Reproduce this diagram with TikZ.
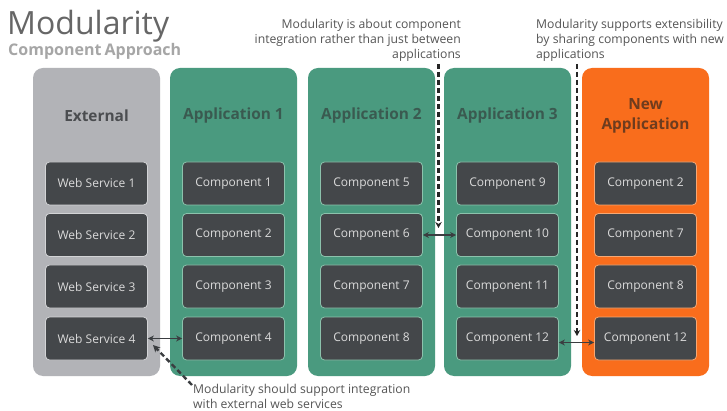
\documentclass[tikz,border=0pt]{standalone}
\usepackage{fontspec}
\setmainfont{Open Sans}
\usetikzlibrary{arrows.meta}
\definecolor{colgray}{HTML}{B2B3B7}
\definecolor{colgreen}{HTML}{4A9A7F}
\definecolor{colorange}{HTML}{F96D1C}
\definecolor{boxdark}{HTML}{44474A}
\definecolor{bordgray}{HTML}{D3D4D6}
\definecolor{bordgreen}{HTML}{8CC2AC}
\definecolor{bordorange}{HTML}{F6A874}
\definecolor{boxtext}{HTML}{DADADA}
\definecolor{ttlgray}{HTML}{4B4D50}
\definecolor{ttlgreen}{HTML}{3A5A50}
\definecolor{ttlorange}{HTML}{6E3C1E}
\definecolor{notetext}{HTML}{555555}
\definecolor{arrowcol}{HTML}{3A3D40}
\begin{document}
\begin{tikzpicture}[x=1pt,y=-1pt,
  colbox/.style={draw=none,rounded corners=10pt,minimum width=127pt,minimum height=308pt,inner sep=0pt},
  itembox/.style={draw,line width=0.8pt,fill=boxdark,rounded corners=4pt,minimum width=102pt,minimum height=43pt,inner sep=0pt,text=boxtext,font=\fontsize{12}{14}\selectfont},
  coltitle/.style={font=\bfseries\fontsize{15.4}{20}\selectfont,align=center},
  note/.style={text=notetext,font=\fontsize{12.2}{15}\selectfont,inner sep=0pt},
  dbl/.style={arrowcol,line width=1.8pt,{Stealth[length=6pt,width=6pt]}-{Stealth[length=6pt,width=6pt]}},
  dsh/.style={black!85,line width=2.2pt,dash pattern=on 5pt off 3pt,-{Stealth[length=6pt,width=6.5pt]}},
  dshann/.style={arrowcol,line width=2.4pt,dash pattern=on 5pt off 3pt,-{Stealth[length=7pt,width=7pt]}}
]
\useasboundingbox (0,0) rectangle (727,411);
\fill[white] (0,0) rectangle (727,411);

% titles
\node[anchor=base west,inner sep=0pt,text=notetext!90,font=\fontsize{32}{34}\selectfont] (title) at (7,35) {Modularity};
\node[anchor=base west,inner sep=0pt,text=black!35,font=\bfseries\fontsize{16}{18}\selectfont] (subtitle) at (8,56) {Component\hspace{-1pt} Approach};

% columns
\node[colbox,fill=colgray] (colext) at (96.5,222) {};
\node[colbox,fill=colgreen] (colapa) at (233.5,222) {};
\node[colbox,fill=colgreen] (colapb) at (371.5,222) {};
\node[colbox,fill=colgreen] (colapc) at (507.5,222) {};
\node[colbox,fill=colorange] (colnew) at (645.5,222) {};

% column titles
\node[coltitle,text=ttlgray] (text) at (96.5,116) {External};
\node[coltitle,text=ttlgreen] (tapa) at (233.5,116) {Application 1};
\node[coltitle,text=ttlgreen] (tapb) at (371.5,116) {Application 2};
\node[coltitle,text=ttlgreen] (tapc) at (507.5,116) {Application 3};
\node[coltitle,text=ttlorange] (tnew) at (645.5,116) {New\\Application};

% items
\foreach \y/\n in {183.5/1,235/2,286.5/3,338.5/4}{
  \node[itembox,draw=bordgray] (ws\n) at (96.5,\y) {Web Service \n};
}
\foreach \y/\n in {183.5/1,235/2,286.5/3,338.5/4}{
  \node[itembox,draw=bordgreen] (ca\n) at (233.5,\y) {Component \n};
}
\foreach \y/\n/\m in {183.5/1/5,235/2/6,286.5/3/7,338.5/4/8}{
  \node[itembox,draw=bordgreen] (cb\n) at (371.5,\y) {Component \m};
}
\foreach \y/\n/\m in {183.5/1/9,235/2/10,286.5/3/11,338.5/4/12}{
  \node[itembox,draw=bordgreen] (cc\n) at (507.5,\y) {Component \m};
}
\foreach \y/\n/\m in {183.5/1/2,235/2/7,286.5/3/8,338.5/4/12}{
  \node[itembox,draw=bordorange] (cn\n) at (645.5,\y) {Component \m};
}

% notes
\node[note,anchor=north east,align=right] (notea) at (461,19) {Modularity is about component\\integration rather than just between\\applications};
\node[note,anchor=north west,align=left] (noteb) at (536,19) {Modularity supports extensibility\\by sharing components with new\\applications};
\node[note,anchor=north west,align=left] (notec) at (193,384) {Modularity should support integration\\with external web services};

% connectors
\draw[dbl] (ws4.east) -- (ca4.west);
\draw[dbl] (cb2.east) -- (cc2.west);
\draw[dbl] ([yshift=-4pt]cc4.east) -- ([yshift=-4pt]cn4.west);

\coordinate (dastart) at (438.5,64);
\coordinate (daend) at (438.5,228);
\coordinate (dbstart) at (577,64);
\coordinate (dbend) at (577,336);
\coordinate (dcstart) at (192,385);
\coordinate (dcend) at (153,345);
\draw[dsh] (dastart) -- (daend);
\draw[dsh] (dbstart) -- (dbend);
\draw[dshann] (dcstart) -- (dcend);
\end{tikzpicture}
\end{document}
